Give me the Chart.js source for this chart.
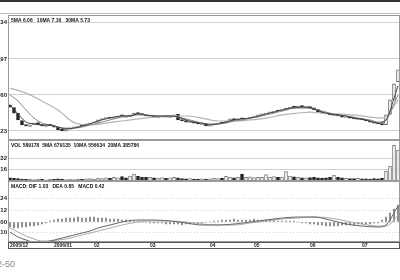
<!DOCTYPE html>
<html>
<head>
<meta charset="utf-8">
<script src="https://cdn.jsdelivr.net/npm/chart.js@4.4.1/dist/chart.umd.min.js"></script>
<style>
  body { margin: 0; background: #fff; width: 400px; height: 280px; overflow: hidden; position: relative; font-family: Arial, sans-serif; }
  canvas { position: absolute; left: 0; }
  #topbar { position: absolute; left: 0; top: 0; width: 400px; height: 2px; background: #333; }
  #topline { position: absolute; left: 0; top: 13px; width: 400px; height: 1px; background: #bbb; }
  #code { position: absolute; left: -3px; top: 259px; font-size: 9px; color: #888; }
</style>
</head>
<body>
<div id="topbar"></div>
<div id="topline"></div>
<canvas id="priceChart" width="400" height="125" style="top:15px"></canvas>
<canvas id="volChart" width="400" height="41" style="top:140px"></canvas>
<canvas id="macdChart" width="400" height="68" style="top:181px"></canvas>
<div id="code">2-50</div>
<script>
// sedute giornaliere (indice 0 = inizio dicembre 2005)
const opens = [
  6.22, 6.12, 5.90, 5.63, 5.47, 5.40, 5.47, 5.55, 5.47, 5.40,
  5.48, 5.43, 5.37, 5.29, 5.22, 5.30, 5.35, 5.37, 5.45, 5.42,
  5.49, 5.54, 5.56, 5.66, 5.70, 5.76, 5.71, 5.75, 5.84, 5.81,
  5.77, 5.83, 5.93, 5.89, 5.83, 5.78, 5.82, 5.74, 5.76, 5.81,
  5.75, 5.79, 5.86, 5.66, 5.63, 5.55, 5.58, 5.54, 5.47, 5.51,
  5.41, 5.46, 5.49, 5.56, 5.54, 5.60, 5.70, 5.64, 5.72, 5.68,
  5.72, 5.75, 5.79, 5.83, 5.87, 5.92, 5.94, 6.02, 5.98, 6.02,
  6.09, 6.17, 6.12, 6.20, 6.12, 6.16, 6.11, 6.04, 5.96, 5.92,
  5.89, 5.80, 5.85, 5.81, 5.73, 5.78, 5.73, 5.66, 5.70, 5.66,
  5.60, 5.58, 5.54, 5.51, 5.47, 5.86, 6.40, 7.10
]
const closes = [
  6.14, 5.91, 5.65, 5.46, 5.42, 5.46, 5.53, 5.46, 5.42, 5.46,
  5.42, 5.38, 5.27, 5.23, 5.31, 5.34, 5.38, 5.42, 5.42, 5.50,
  5.53, 5.57, 5.65, 5.69, 5.72, 5.72, 5.76, 5.80, 5.80, 5.76,
  5.84, 5.91, 5.88, 5.84, 5.80, 5.80, 5.76, 5.76, 5.80, 5.76,
  5.80, 5.84, 5.65, 5.61, 5.57, 5.57, 5.53, 5.50, 5.50, 5.42,
  5.46, 5.50, 5.53, 5.53, 5.61, 5.69, 5.65, 5.69, 5.69, 5.72,
  5.76, 5.80, 5.84, 5.88, 5.91, 5.95, 5.99, 5.99, 6.03, 6.10,
  6.14, 6.14, 6.18, 6.14, 6.14, 6.10, 6.03, 5.95, 5.91, 5.88,
  5.84, 5.84, 5.80, 5.76, 5.76, 5.72, 5.69, 5.69, 5.65, 5.61,
  5.57, 5.53, 5.50, 5.46, 5.84, 6.41, 7.02, 7.55
]
const volumes = [
  60000, 52000, 45000, 38000, 30000, 35000, 28000, 25000, 30000, 22000,
  26000, 30000, 42000, 36000, 28000, 32000, 25000, 30000, 34000, 40000,
  45000, 38000, 52000, 48000, 60000, 55000, 70000, 62000, 85000, 58000,
  95000, 130000, 88000, 75000, 68000, 72000, 60000, 55000, 66000, 50000,
  58000, 70000, 62000, 48000, 42000, 45000, 38000, 35000, 40000, 36000,
  42000, 50000, 46000, 55000, 90000, 75000, 60000, 70000, 130000, 70000,
  80000, 65000, 72000, 72000, 120000, 70000, 85000, 68000, 75000, 180000,
  95000, 80000, 70000, 62000, 58000, 65000, 70000, 60000, 55000, 62000,
  68000, 115000, 72000, 60000, 52000, 48000, 45000, 50000, 42000, 40000,
  38000, 45000, 42000, 50000, 190000, 280000, 680000, 590000
]
const macdHist = [
  -0.05, -0.06, -0.06, -0.05, -0.05, -0.04, -0.04, -0.03, -0.02, -0.01, 0.01,
  0.02, 0.03, 0.03, 0.04, 0.04, 0.04, 0.05, 0.04, 0.04, 0.05,
  0.05, 0.04, 0.04, 0.04, 0.03, 0.03, 0.03, 0.02, 0.02, 0.02,
  0.01, 0.01, 0.01, 0.00, -0.01, -0.01, -0.01, -0.01, -0.02, -0.02, -0.02, -0.02, -0.03, -0.02,
  -0.02, -0.01, -0.01, -0.01, 0.00, 0.00, 0.01, 0.01, 0.02, 0.02, 0.02, 0.03, 0.02, 0.02,
  0.02, 0.02, 0.03, 0.02, 0.02, 0.02, 0.02, 0.02, 0.01, 0.01, 0.01, 0.01, 0.01, 0.00,
  -0.01, -0.01, -0.02, -0.02, -0.03, -0.03, -0.04, -0.04, -0.04, -0.04,
  -0.03, -0.03, -0.03, -0.03, -0.02, -0.02, -0.02, -0.02, -0.01, -0.01,
  0.02, 0.05, 0.09, 0.13, 0.17
]

// medie mobili e linee MACD: [seduta, valore]
const ma5 = [
  [0, 6.22], [2, 5.88], [4, 5.57], [6, 5.50], [8, 5.46], [10, 5.46], [12, 5.38], [14, 5.31],
  [16, 5.34], [18, 5.42], [20, 5.50], [22, 5.61], [24, 5.69], [26, 5.76], [28, 5.80], [30, 5.80],
  [32, 5.88], [34, 5.84], [36, 5.80], [38, 5.80], [40, 5.80], [42, 5.76], [44, 5.65], [46, 5.57],
  [48, 5.53], [50, 5.46], [52, 5.50], [54, 5.57], [56, 5.65], [58, 5.69], [60, 5.72], [62, 5.80],
  [64, 5.88], [66, 5.95], [68, 6.03], [70, 6.10], [72, 6.14], [74, 6.14], [76, 6.07], [78, 5.95],
  [80, 5.88], [82, 5.84], [84, 5.80], [86, 5.72], [88, 5.69], [90, 5.61], [92, 5.53], [94, 5.65],
  [95, 5.99], [96, 6.48], [97, 6.94]
]
const ma10 = [
  [0, 6.60], [2, 6.37], [4, 6.03], [6, 5.72], [8, 5.53], [10, 5.46], [12, 5.38], [14, 5.34],
  [16, 5.34], [18, 5.38], [20, 5.46], [22, 5.53], [24, 5.61], [26, 5.69], [28, 5.76], [30, 5.80],
  [32, 5.84], [34, 5.84], [36, 5.80], [38, 5.80], [40, 5.80], [42, 5.76], [44, 5.69], [46, 5.61],
  [48, 5.53], [50, 5.50], [52, 5.50], [54, 5.53], [56, 5.61], [58, 5.65], [60, 5.72], [62, 5.76],
  [64, 5.84], [66, 5.91], [68, 5.99], [70, 6.07], [72, 6.10], [74, 6.10], [76, 6.07], [78, 5.99],
  [80, 5.91], [82, 5.84], [84, 5.80], [86, 5.76], [88, 5.69], [90, 5.65], [92, 5.57], [94, 5.65],
  [96, 6.26], [97, 6.60]
]
const ma30 = [
  [0, 6.86], [4, 6.67], [8, 6.37], [12, 6.03], [16, 5.55], [20, 5.46], [24, 5.53], [28, 5.61],
  [32, 5.69], [36, 5.76], [40, 5.80], [44, 5.80], [48, 5.72], [52, 5.61], [56, 5.61], [60, 5.65],
  [64, 5.72], [68, 5.84], [72, 5.91], [75, 5.95], [78, 5.91], [82, 5.88], [86, 5.84], [90, 5.76],
  [93, 5.72], [95, 5.95], [97, 6.41]
]
const dif = [
  [0, -0.10], [2, -0.15], [4, -0.18], [6, -0.20], [8, -0.20], [10, -0.19], [12, -0.17], [14, -0.15],
  [16, -0.13], [18, -0.11], [20, -0.09], [22, -0.06], [24, -0.04], [26, -0.02], [28, 0.00], [32, 0.02],
  [36, 0.02], [40, 0.01], [44, -0.01], [48, -0.03], [52, -0.03], [56, -0.02], [60, 0.00], [64, 0.02],
  [68, 0.04], [72, 0.05], [76, 0.05], [80, 0.02], [84, -0.02], [88, -0.04], [92, -0.05], [94, -0.03],
  [95, 0.02], [96, 0.09], [97, 0.16]
]
const dea = [
  [0, -0.06], [2, -0.10], [4, -0.14], [6, -0.17], [8, -0.19], [10, -0.19], [12, -0.18], [14, -0.17],
  [16, -0.15], [18, -0.13], [20, -0.11], [22, -0.09], [24, -0.07], [26, -0.05], [28, -0.03], [32, 0.00],
  [36, 0.01], [40, 0.01], [44, 0.00], [48, -0.02], [52, -0.03], [56, -0.03], [60, -0.01], [64, 0.01],
  [68, 0.03], [72, 0.04], [76, 0.05], [80, 0.04], [84, 0.01], [88, -0.02], [92, -0.04], [94, -0.04],
  [95, -0.02], [96, 0.02], [97, 0.07]
]

// etichette dell'asse dei tempi e tacche degli assi verticali
const monthIdx = [0, 11, 21, 35, 50, 61, 75, 88]
const monthLabels = ['2005/12', '2006/01', '02', '03', '04', '05', '06', '07']
const priceTicks = [5.23, 6.60, 7.97, 9.34]
const volTicks = [216000, 432000]
const macdTicks = [-0.10, 0, 0.12, 0.24]

const priceHeader = '5MA 6.06   10MA 7.16   30MA 5.73'
const volHeader = 'VOL 589178  5MA 679135  10MA 556634  20MA 385786'
const macdHeader = 'MACD: DIF 1.03   DEA 0.85   MACD 0.42'

Chart.defaults.font.family = 'Arial'
Chart.defaults.animation = false

const isUp = i => closes[i] >= opens[i]
const toPoints = arr => arr.map(p => ({ x: p[0], y: p[1] }))

// cornice del pannello
const panelFrame = {
  id: 'panelFrame',
  afterDraw(chart) {
    const { ctx, chartArea: a } = chart
    ctx.save()
    ctx.strokeStyle = '#9a9a9a'
    ctx.lineWidth = 1
    ctx.strokeRect(a.left + 0.5, a.top + 0.5, a.right - a.left - 1, a.bottom - a.top - 1)
    ctx.restore()
  },
}

// scritta in alto a sinistra di ogni pannello
function headerPlugin(text) {
  return {
    id: 'header',
    afterDraw(chart) {
      const { ctx, chartArea: a } = chart
      ctx.save()
      ctx.font = 'bold 5px Arial'
      ctx.fillStyle = '#111'
      ctx.textBaseline = 'top'
      ctx.fillText(text, a.left + 3, a.top + 3)
      ctx.restore()
    },
  }
}

// striscia delle date sotto il MACD
const dateStrip = {
  id: 'dateStrip',
  afterDraw(chart) {
    const { ctx, chartArea: a } = chart
    const x = chart.scales.x
    ctx.save()
    ctx.strokeStyle = '#555'
    ctx.lineWidth = 1
    ctx.strokeRect(a.left + 0.5, x.top + 0.5, a.right - a.left - 1, x.bottom - x.top - 1)
    ctx.restore()
  },
}

function yAxis(min, max, ticks, fmt, dash) {
  return {
    type: 'linear',
    min: min,
    max: max,
    afterBuildTicks: s => { s.ticks = ticks.map(v => ({ value: v })) },
    afterFit: s => { s.width = 8; s.paddingTop = 0; s.paddingBottom = 0 },
    ticks: { font: { size: 6, weight: 'bold' }, color: '#222', padding: 1, callback: fmt },
    grid: { color: '#cfcfcf', lineWidth: 1, drawTicks: false },
    border: { display: false, dash: dash },
  }
}

function hiddenX() {
  return { type: 'linear', min: -0.5, max: 97.5, offset: false, display: false }
}

function commonOpts(scales) {
  return {
    responsive: false,
    events: [],
    layout: { padding: 0 },
    plugins: { legend: { display: false }, tooltip: { enabled: false } },
    scales: scales,
  }
}

// pannello prezzi
new Chart(document.getElementById('priceChart'), {
  type: 'bar',
  data: {
    datasets: [
      { type: 'line', data: toPoints(ma5), borderColor: '#444', borderWidth: 1, pointRadius: 0, cubicInterpolationMode: 'monotone', order: 0 },
      { type: 'line', data: toPoints(ma10), borderColor: '#8a8a8a', borderWidth: 1, pointRadius: 0, cubicInterpolationMode: 'monotone', order: 0 },
      { type: 'line', data: toPoints(ma30), borderColor: '#b5b5b5', borderWidth: 1.2, pointRadius: 0, cubicInterpolationMode: 'monotone', order: 0 },
      {
        data: closes.map((c, i) => ({ x: i, y: [opens[i], c] })),
        backgroundColor: ctx => isUp(ctx.dataIndex) ? '#fff' : '#222',
        borderColor: ctx => isUp(ctx.dataIndex) ? '#666' : '#222',
        borderWidth: 1,
        borderSkipped: false,
        barThickness: 3,
        minBarLength: 1,
        order: 1,
      },
    ],
  },
  options: commonOpts({
    x: hiddenX(),
    y: yAxis(4.888, 9.638, priceTicks, v => v.toFixed(2), []),
  }),
  plugins: [panelFrame, headerPlugin(priceHeader)],
})

// pannello volumi
new Chart(document.getElementById('volChart'), {
  type: 'bar',
  data: {
    datasets: [
      {
        data: volumes.map((v, i) => ({ x: i, y: v })),
        backgroundColor: ctx => isUp(ctx.dataIndex) ? '#fff' : '#222',
        borderColor: ctx => isUp(ctx.dataIndex) ? '#777' : '#222',
        borderWidth: 1,
        borderSkipped: 'bottom',
        barThickness: 3,
      },
    ],
  },
  options: commonOpts({
    x: hiddenX(),
    y: yAxis(0, 780000, volTicks, v => Math.round(v / 1000), []),
  }),
  plugins: [panelFrame, headerPlugin(volHeader)],
})

// pannello MACD
new Chart(document.getElementById('macdChart'), {
  type: 'bar',
  data: {
    datasets: [
      { type: 'line', data: toPoints(dif), borderColor: '#666', borderWidth: 1, pointRadius: 0, cubicInterpolationMode: 'monotone', order: 0 },
      { type: 'line', data: toPoints(dea), borderColor: '#aaa', borderWidth: 1, pointRadius: 0, cubicInterpolationMode: 'monotone', order: 0 },
      {
        data: macdHist.map((v, i) => ({ x: i, y: v })),
        backgroundColor: '#777',
        barThickness: 1,
        order: 1,
      },
    ],
  },
  options: commonOpts({
    x: {
      type: 'linear',
      min: -0.5,
      max: 97.5,
      offset: false,
      afterBuildTicks: s => { s.ticks = monthIdx.map(v => ({ value: v })) },
      afterFit: s => { s.height = 7; s.paddingLeft = 0; s.paddingRight = 0 },
      ticks: {
        autoSkip: false,
        maxRotation: 0,
        align: 'start',
        padding: 1,
        font: { size: 5, weight: 'bold' },
        color: '#222',
        callback: v => monthLabels[monthIdx.indexOf(v)],
      },
      grid: { display: false, drawTicks: false },
      border: { display: false },
    },
    y: yAxis(-0.20, 0.41, macdTicks, v => v.toFixed(2), [1, 2]),
  }),
  plugins: [panelFrame, headerPlugin(macdHeader), dateStrip],
})
</script>
</body>
</html>
